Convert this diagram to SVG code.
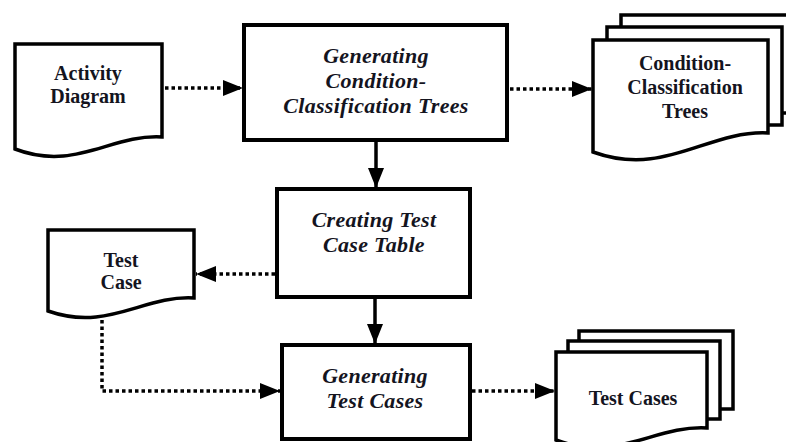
<svg xmlns="http://www.w3.org/2000/svg" width="786" height="442" viewBox="0 0 786 442" font-family="Liberation Serif, Times New Roman, serif">
  <style>
    .proc { fill: #fff; stroke: #000; stroke-width: 4; }
    .doc { fill: #fff; stroke: #000; stroke-width: 3.5; stroke-linejoin: miter; }
    .flow { fill: none; stroke: #000; stroke-width: 3.5; }
    .data { fill: none; stroke: #000; stroke-width: 3.5; stroke-dasharray: 3.5 3; }
    text { font-weight: bold; fill: #14141e; text-anchor: middle; }
    .pt { font-size: 22px; font-style: italic; letter-spacing: 0.3px; }
    .dt { font-size: 20px; }
  </style>
  <defs>
    <marker id="head" viewBox="0 0 20 16" refX="20" refY="8" markerWidth="20" markerHeight="16" markerUnits="userSpaceOnUse" orient="auto">
      <path d="M0,0 L20,8 L0,16 Z" fill="#000"/>
    </marker>
  </defs>

  <!-- document: Activity Diagram -->
  <g id="activity-diagram">
    <path class="doc" d="M15,44 H162 V137 C110.5,134 75,172 15,149 Z"/>
    <text class="dt" x="88" y="80">Activity</text>
    <text class="dt" x="88" y="103">Diagram</text>
  </g>

  <!-- process: generating the trees -->
  <g id="gen-cct">
    <rect class="proc" x="244" y="25" width="263" height="115"/>
    <text class="pt" x="376" y="63">Generating</text>
    <text class="pt" x="376" y="88">Condition-</text>
    <text class="pt" x="376" y="113">Classification Trees</text>
  </g>

  <!-- stacked documents: the trees -->
  <g id="cct-docs">
    <rect class="doc" x="621" y="15" width="175" height="98"/>
    <rect class="doc" x="607" y="27" width="175" height="98"/>
    <path class="doc" d="M593,40 H768 V133 C707,130 665,178 593,152 Z"/>
    <text class="dt" x="685" y="70">Condition-</text>
    <text class="dt" x="685" y="94">Classification</text>
    <text class="dt" x="685" y="118">Trees</text>
  </g>

  <!-- process: test case table -->
  <g id="create-table">
    <rect class="proc" x="277" y="189" width="193" height="108"/>
    <text class="pt" x="374" y="227">Creating Test</text>
    <text class="pt" x="374" y="252">Case Table</text>
  </g>

  <!-- document: single test case -->
  <g id="test-case">
    <path class="doc" d="M48,230 H194 V298 C143,295 108,332 48,311 Z"/>
    <text class="dt" x="121" y="267">Test</text>
    <text class="dt" x="121" y="289">Case</text>
  </g>

  <!-- process: generating test cases -->
  <g id="gen-cases">
    <rect class="proc" x="282" y="345" width="188" height="94"/>
    <text class="pt" x="375" y="383">Generating</text>
    <text class="pt" x="375" y="408">Test Cases</text>
  </g>

  <!-- stacked documents: test cases -->
  <g id="test-cases">
    <rect class="doc" x="579" y="331" width="154" height="78"/>
    <rect class="doc" x="568" y="341" width="152" height="78"/>
    <path class="doc" d="M556,352 H707 V428 C654,425 618,463 556,440 Z"/>
    <text class="dt" x="633" y="405">Test Cases</text>
  </g>

  <!-- connectors -->
  <g id="connectors">
    <path class="data" d="M165,88 H243" marker-end="url(#head)"/>
    <path class="data" d="M510,89 H592" marker-end="url(#head)"/>
    <path class="flow" d="M376,142 V188" marker-end="url(#head)"/>
    <path class="data" d="M275,274 H196" marker-end="url(#head)"/>
    <path class="flow" d="M375,299 V344" marker-end="url(#head)"/>
    <path class="data" d="M102,320 V391 H280" marker-end="url(#head)"/>
    <path class="data" d="M472,391 H555" marker-end="url(#head)"/>
  </g>
</svg>
